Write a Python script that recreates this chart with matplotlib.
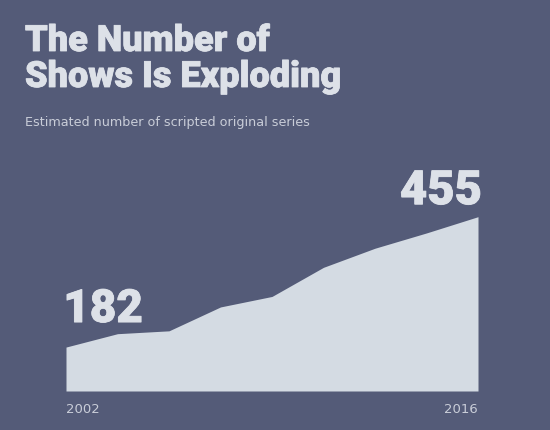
# area chart: number of scripted original series

from matplotlib import pyplot as plt
from matplotlib import patheffects as pe

years = ["2002", "2009", "2010", "2011", "2012", "2013", "2014", "2015", "2016"]
shows = [182, 210, 216, 266, 288, 349, 389, 421, 455]

bg = "#545b78"
fill = "#d4dbe3"
txt = "#dde1e8"
big_font = "Roboto"
heavy = [pe.withStroke(linewidth=0.6, foreground=txt)]

W, H = 550, 431
fig = plt.figure(figsize=(W / 100, H / 100), dpi=100, facecolor=bg)

# axes placed in pixel coordinates of the original image
left, right, top, bottom = 66, 478, 217.7, 392
ax = fig.add_axes([left / W, 1 - bottom / H, (right - left) / W, (bottom - top) / H])
ax.set_facecolor(bg)

x = list(range(len(years)))
ax.fill_between(x, 90, shows, color=fill, linewidth=0)
ax.set_xlim(0, len(years) - 1)
ax.set_ylim(90, max(shows))
ax.axis("off")

# valor inicial y final
ax.annotate(str(shows[0]), (x[0], shows[0]), xytext=(-2, 18), textcoords="offset points",
            ha="left", va="baseline", fontsize=33, fontweight=900, family=big_font,
            color=txt, annotation_clip=False, path_effects=heavy)
ax.annotate(str(shows[-1]), (x[-1], shows[-1]), xytext=(3, 9), textcoords="offset points",
            ha="right", va="baseline", fontsize=34, fontweight=900, family=big_font,
            color=txt, annotation_clip=False, path_effects=heavy)

# etiquetas de años
ax.annotate(years[0], (x[0], 90), xytext=(0, -8), textcoords="offset points",
            ha="left", va="top", fontsize=9.5, color="#c9cdd8", annotation_clip=False)
ax.annotate(years[-1], (x[-1], 90), xytext=(0, -8), textcoords="offset points",
            ha="right", va="top", fontsize=9.5, color="#c9cdd8", annotation_clip=False)

fig.text(25 / W, 1 - 52 / H, "The Number of", fontsize=26, fontweight=900,
         family=big_font, color=txt, va="baseline", path_effects=heavy)
fig.text(25 / W, 1 - 88 / H, "Shows Is Exploding", fontsize=26, fontweight=900,
         family=big_font, color=txt, va="baseline", path_effects=heavy)
fig.text(25 / W, 1 - 126 / H, "Estimated number of scripted original series", fontsize=9.2,
         color="#c9cdd8", va="baseline")

plt.savefig("out.png", dpi=100, facecolor=bg)
